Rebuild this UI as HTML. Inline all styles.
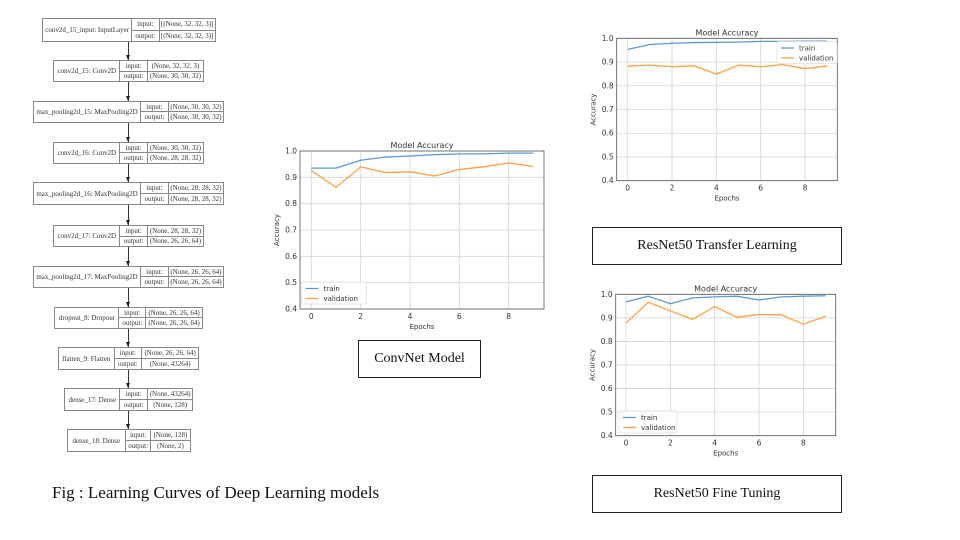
<!DOCTYPE html>
<html><head><meta charset="utf-8">
<style>
html,body{margin:0;padding:0;background:#fff;}
#root{position:relative;width:960px;height:540px;overflow:hidden;background:#fff;}
.box{position:absolute;border:1px solid #888;box-sizing:border-box;font-family:"Liberation Serif",serif;font-size:7px;color:#333;display:flex;}
.nm{display:flex;align-items:center;justify-content:center;border-right:1px solid #888;white-space:nowrap;}
.lab,.val{display:flex;flex-direction:column;border-right:1px solid #888;}
.val{border-right:none;flex:1;}
.lab div,.val div{flex:1;display:flex;align-items:center;justify-content:center;white-space:nowrap;}
.lab div:first-child,.val div:first-child{border-bottom:1px solid #888;}
.arrow{position:absolute;width:1px;background:#333;}
.arrow:after{content:"";position:absolute;left:-2px;bottom:0;border-left:2.5px solid transparent;border-right:2.5px solid transparent;border-top:5px solid #222;}
.cap{position:absolute;border:1px solid #222;box-sizing:border-box;font-family:"Liberation Serif",serif;font-size:14px;display:flex;align-items:center;justify-content:center;color:#111;}
svg text{font-family:"DejaVu Sans","Liberation Sans",sans-serif;fill:#333;}
</style></head>
<body><div id="root">
<div id="diagram"></div>
<svg id="c1" style="position:absolute;left:0;top:0" width="960" height="540"></svg>
<div class="cap" style="left:358px;top:340px;width:123px;height:38px;">ConvNet Model</div>
<div class="cap" style="left:592px;top:227px;width:250px;height:38px;">ResNet50 Transfer Learning</div>
<div class="cap" style="left:592px;top:475px;width:250px;height:38px;">ResNet50 Fine Tuning</div>
<div style="position:absolute;left:52px;top:483px;font-family:'Liberation Serif',serif;font-size:17px;color:#111;">Fig : Learning Curves of Deep Learning models</div>
</div>
<script>
// ---- chart data ----
const epochs = [0,1,2,3,4,5,6,7,8,9];
const xTicks = [0,2,4,6,8];
const yTicks = [0.4,0.5,0.6,0.7,0.8,0.9,1.0];
const convTrain = [0.935,0.935,0.965,0.977,0.981,0.986,0.989,0.989,0.992,0.992];
const convVal = [0.926,0.862,0.940,0.918,0.921,0.905,0.930,0.940,0.955,0.941];
const tlTrain = [0.953,0.974,0.979,0.982,0.983,0.984,0.987,0.987,0.988,0.988];
const tlVal = [0.883,0.887,0.880,0.884,0.849,0.887,0.880,0.889,0.872,0.883];
const ftTrain = [0.968,0.992,0.960,0.985,0.989,0.992,0.976,0.989,0.992,0.994];
const ftVal = [0.878,0.966,0.930,0.894,0.948,0.903,0.914,0.913,0.873,0.907];

const NS = "http://www.w3.org/2000/svg";
const svg = document.getElementById('c1');
function mk(tag, attrs, parent){
  const e = document.createElementNS(NS, tag);
  for (const k in attrs) e.setAttribute(k, attrs[k]);
  (parent||svg).appendChild(e);
  return e;
}
function chart(cfg){
  const g = mk('g', {});
  
  
  const xs = v => cfg.x0 + v*cfg.step;
  const ys = v => cfg.bottom - (v-0.4)/0.6*(cfg.bottom-cfg.top);
  xTicks.forEach(t => {
    const l = mk('line', {x1:xs(t),x2:xs(t),y1:cfg.top,y2:cfg.bottom,stroke:'#d4d4d4','stroke-width':0.8}, g);
    
    
    const tx = mk('text', {x:xs(t),y:cfg.bottom+10,'font-size':7.5,'text-anchor':'middle'}, g);
    tx.textContent = t;
    
    
  });
  yTicks.forEach(t => {
    const l = mk('line', {x1:cfg.left,x2:cfg.right,y1:ys(t),y2:ys(t),stroke:'#d4d4d4','stroke-width':0.8}, g);
    
    
    const tx = mk('text', {x:cfg.left-3,y:ys(t)+2.5,'font-size':7.5,'text-anchor':'end'}, g);
    tx.textContent = t.toFixed(1);
    
    
  });
  const fr = mk('rect', {x:cfg.left,y:cfg.top,width:cfg.right-cfg.left,height:cfg.bottom-cfg.top,fill:'none',stroke:'#555','stroke-width':0.8}, g);
  
  
  const ti = mk('text', {x:(cfg.left+cfg.right)/2,y:cfg.top-3,'font-size':8,'text-anchor':'middle'}, g);
  ti.textContent = 'Model Accuracy';
  
  
  const xl = mk('text', {x:(cfg.left+cfg.right)/2,y:cfg.bottom+20,'font-size':7,'text-anchor':'middle'}, g);
  xl.textContent = 'Epochs';
  
  
  const yx = cfg.left-21, yy=(cfg.top+cfg.bottom)/2;
  const yl = mk('text', {x:yx,y:yy,'font-size':7,'text-anchor':'middle',transform:`rotate(-90 ${yx} ${yy})`}, g);
  yl.textContent = 'Accuracy';
  
  
  const series = [[cfg.train,'#5b9bd5','train-line'],[cfg.val,'#ffa040','validation-line']];
  series.forEach(s => {
    const p = mk('polyline', {points:epochs.map((e,i)=>xs(e)+','+ys(s[0][i])).join(' '),fill:'none',stroke:s[1],'stroke-width':1.3}, g);
    
    
  });
  const L = cfg.legend;
  const lg = mk('g', {}, g);
  
  
  mk('rect', {x:L[0],y:L[1],width:L[2],height:22,fill:'#fff','fill-opacity':0.85,stroke:'#ddd','stroke-width':0.7,rx:1.5}, lg);
  [['train','#5b9bd5'],['validation','#ffa040']].forEach((s,i)=>{
    const yv = L[1]+6.5+i*10;
    const ln = mk('line', {x1:L[0]+4,x2:L[0]+17,y1:yv,y2:yv,stroke:s[1],'stroke-width':1.3}, lg);
    
    
    const t = mk('text', {x:L[0]+22,y:yv+2.5,'font-size':7}, lg);
    t.textContent = s[0];
    
    
  });
}
chart({name:'convnet-chart',left:300,right:544,top:151,bottom:309,x0:311.3,step:24.67,train:convTrain,val:convVal,legend:[301.5,282,65]});
chart({name:'transfer-learning-chart',left:616.7,right:837.3,top:38.3,bottom:180.7,x0:627.7,step:22.16,train:tlTrain,val:tlVal,legend:[777,41.5,60]});
chart({name:'fine-tuning-chart',left:615.7,right:835.7,top:294.3,bottom:435.7,x0:626,step:22.17,train:ftTrain,val:ftVal,legend:[619,411,58]});

// ---- architecture diagram ----
const boxes = [
 ['conv2d_15_input: InputLayer',42.3,215.7,18.3,41.7,130,156.7,'[(None, 32, 32, 3)]','[(None, 32, 32, 3)]'],
 ['conv2d_15: Conv2D',53.3,204,60,82.3,118.3,145,'(None, 32, 32, 3)','(None, 30, 30, 32)'],
 ['max_pooling2d_15: MaxPooling2D',32.7,224.3,100.7,123.3,139.3,165.7,'(None, 30, 30, 32)','(None, 30, 30, 32)'],
 ['conv2d_16: Conv2D',53.3,204,141.7,164.3,118.3,145,'(None, 30, 30, 32)','(None, 28, 28, 32)'],
 ['max_pooling2d_16: MaxPooling2D',32.7,224.3,182.3,205,139.3,165.7,'(None, 28, 28, 32)','(None, 28, 28, 32)'],
 ['conv2d_17: Conv2D',53.3,204,225,247.3,118.3,145,'(None, 28, 28, 32)','(None, 26, 26, 64)'],
 ['max_pooling2d_17: MaxPooling2D',32.7,224.3,265.7,288.3,139.3,165.7,'(None, 26, 26, 64)','(None, 26, 26, 64)'],
 ['dropout_8: Dropout',54.3,202.7,306.7,329.3,117.3,143.3,'(None, 26, 26, 64)','(None, 26, 26, 64)'],
 ['flatten_9: Flatten',57.7,199.3,347.3,370,112.7,139,'(None, 26, 26, 64)','(None, 43264)'],
 ['dense_17: Dense',64.3,193.3,388.3,411,118.3,145,'(None, 43264)','(None, 128)'],
 ['dense_18: Dense',66.7,190.7,429.3,452.3,124,148.3,'(None, 128)','(None, 2)']
];
const dg = document.getElementById('diagram');
boxes.forEach((b,i)=>{
  const d = document.createElement('div');
  d.className = 'box';
  
  
  d.style.left = b[1]+'px'; d.style.top = b[3]+'px';
  d.style.width = (b[2]-b[1])+'px'; d.style.height = (b[4]-b[3])+'px';
  d.innerHTML = `<div class="nm" style="width:${b[5]-b[1]}px">${b[0]}</div><div class="lab" style="width:${b[6]-b[5]}px"><div>input:</div><div>output:</div></div><div class="val"><div>${b[7]}</div><div>${b[8]}</div></div>`;
  dg.appendChild(d);
  if (i>0){
    const a = document.createElement('div');
    a.className = 'arrow';
    
    
    a.style.left = '128px';
    a.style.top = boxes[i-1][4]+'px';
    a.style.height = (b[3]-boxes[i-1][4])+'px';
    dg.appendChild(a);
  }
});
</script>
</body></html>
